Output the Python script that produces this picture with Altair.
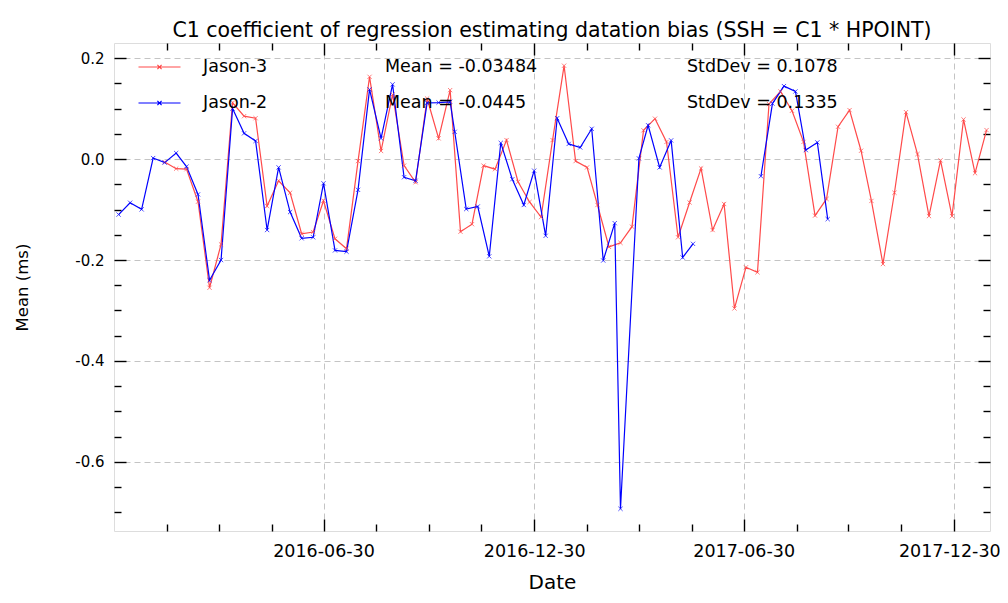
import altair as alt
import pandas as pd

# ---------------- data ----------------
chart_title = "C1 coefficient of regression estimating datation bias (SSH = C1 * HPOINT)"
series_names = ["Jason-3", "Jason-2"]
series_colors = ["#ff4a4a", "#0000ff"]
mean_labels = ["Mean = -0.03484", "Mean = -0.0445"]
std_labels = ["StdDev = 0.1078", "StdDev = 0.1335"]

j3_dates = [
    "2016-02-13", "2016-02-23", "2016-03-03", "2016-03-13", "2016-03-23", "2016-04-02",
    "2016-04-12", "2016-04-22", "2016-05-02", "2016-05-12", "2016-05-22", "2016-06-01",
    "2016-06-11", "2016-06-21", "2016-06-30", "2016-07-10", "2016-07-20", "2016-07-30",
    "2016-08-09", "2016-08-19", "2016-08-29", "2016-09-08", "2016-09-18", "2016-09-28",
    "2016-10-08", "2016-10-18", "2016-10-27", "2016-11-06", "2016-11-16", "2016-11-26",
    "2016-12-06", "2016-12-16", "2016-12-26", "2017-01-05", "2017-01-15", "2017-01-25",
    "2017-02-04", "2017-02-14", "2017-02-23", "2017-03-05", "2017-03-15", "2017-03-25",
    "2017-04-04", "2017-04-14", "2017-04-24", "2017-05-04", "2017-05-14", "2017-05-24",
    "2017-06-03", "2017-06-13", "2017-06-22", "2017-07-02", "2017-07-12", "2017-07-22",
    "2017-08-01", "2017-08-11", "2017-08-21", "2017-08-31", "2017-09-10", "2017-09-20",
    "2017-09-30", "2017-10-10", "2017-10-19", "2017-10-29", "2017-11-08", "2017-11-18",
    "2017-11-28", "2017-12-08", "2017-12-18", "2017-12-28", "2018-01-07", "2018-01-17",
    "2018-01-27",
]
j3_values = [
    -0.006, -0.019, -0.020, -0.0845, -0.255, -0.169,
    0.1115, 0.085, 0.081, -0.093, -0.043, -0.0667,
    -0.148, -0.1446, -0.0825, -0.158, -0.1776, -0.004,
    0.163, 0.016, 0.128, -0.013, -0.046, 0.120,
    0.041, 0.1366, -0.144, -0.129, -0.013, -0.020,
    0.0376, -0.045, -0.085, -0.115, 0.0376, 0.185,
    -0.004, -0.0165, -0.091, -0.174, -0.166, -0.134,
    0.057, 0.080, 0.034, -0.155, -0.086, -0.0185,
    -0.1406, -0.089, -0.296, -0.2145, -0.2244, 0.109,
    0.134, 0.0957, 0.034, -0.112, -0.079, 0.064,
    0.097, 0.0165, -0.083, -0.208, -0.0667, 0.093,
    0.0099, -0.113, -0.0026, -0.113, 0.0785, -0.028,
    0.0574,
]

# Jason-2: two separate (unconnected) runs
j2_dates_a = [
    "2016-01-04", "2016-01-14", "2016-01-24", "2016-02-03", "2016-02-13", "2016-02-23",
    "2016-03-03", "2016-03-13", "2016-03-23", "2016-04-02", "2016-04-12", "2016-04-22",
    "2016-05-02", "2016-05-12", "2016-05-22", "2016-06-01", "2016-06-11", "2016-06-21",
    "2016-06-30", "2016-07-10", "2016-07-20", "2016-07-30", "2016-08-09", "2016-08-19",
    "2016-08-29", "2016-09-08", "2016-09-18", "2016-09-28", "2016-10-08", "2016-10-18",
    "2016-10-22", "2016-11-01", "2016-11-11", "2016-11-21", "2016-12-01", "2016-12-11",
    "2016-12-21", "2016-12-30", "2017-01-09", "2017-01-19", "2017-01-29", "2017-02-08",
    "2017-02-18", "2017-02-28", "2017-03-10", "2017-03-15", "2017-03-31", "2017-04-08",
    "2017-04-18", "2017-04-28", "2017-05-08", "2017-05-17",
]
j2_values_a = [
    -0.110, -0.0865, -0.0997, 0.002, -0.007, 0.012,
    -0.015, -0.070, -0.240, -0.200, 0.100, 0.051,
    0.036, -0.1406, -0.0165, -0.105, -0.157, -0.155,
    -0.048, -0.181, -0.1835, -0.061, 0.138, 0.041,
    0.148, -0.036, -0.043, 0.1115, 0.112, 0.1135,
    0.054, -0.099, -0.094, -0.1927, 0.032, -0.040,
    -0.091, -0.023, -0.152, 0.081, 0.030, 0.023,
    0.060, -0.201, -0.127, -0.693, 0.0013, 0.067,
    -0.0165, 0.037, -0.195, -0.168,
]
j2_dates_b = [
    "2017-07-15", "2017-07-25", "2017-08-04", "2017-08-14", "2017-08-23", "2017-09-02",
    "2017-09-11",
]
j2_values_b = [-0.034, 0.110, 0.1446, 0.134, 0.0178, 0.033, -0.119]

x_domain = ["2015-12-31", "2018-01-30"]
x_major = ["2016-06-30", "2016-12-30", "2017-06-30", "2017-12-30"]
x_minor = [
    "2016-02-15", "2016-03-31", "2016-05-16",
    "2016-08-15", "2016-09-30", "2016-11-14",
    "2017-02-14", "2017-03-31", "2017-05-16",
    "2017-08-15", "2017-09-29", "2017-11-14",
]
y_domain = [-0.737, 0.23]
y_major = [-0.6, -0.4, -0.2, 0.0, 0.2]
y_minor = [-0.7, -0.65, -0.55, -0.5, -0.45, -0.35, -0.3, -0.25, -0.15, -0.1, -0.05,
           0.05, 0.1, 0.15]

# ---------------- table ----------------
frames = [
    pd.DataFrame({"date": pd.to_datetime(j3_dates), "value": j3_values,
                  "series": series_names[0], "run": "j3"}),
    pd.DataFrame({"date": pd.to_datetime(j2_dates_a), "value": j2_values_a,
                  "series": series_names[1], "run": "j2a"}),
    pd.DataFrame({"date": pd.to_datetime(j2_dates_b), "value": j2_values_b,
                  "series": series_names[1], "run": "j2b"}),
]
df = pd.concat(frames, ignore_index=True)


def dt(s):
    y, m, d = (int(p) for p in s.split("-"))
    return alt.DateTime(year=y, month=m, date=d)


FONT = "DejaVu Sans"
W, H = 876, 488
MAJOR, MINOR = 12, 7

x_scale = alt.Scale(domain=[dt(x_domain[0]), dt(x_domain[1])], nice=False)
y_scale = alt.Scale(domain=y_domain, nice=False, zero=False)
color_scale = alt.Scale(domain=series_names, range=series_colors)

legend = alt.Legend(
    title=None, orient="none", legendX=34, legendY=12.5,
    symbolType="M-2,0L2,0M-0.2,-0.2L0.2,0.2M-0.2,0.2L0.2,-0.2",
    symbolSize=441, symbolStrokeWidth=1.2,
    labelFont=FONT, labelFontSize=17.5, labelColor="black",
    labelOffset=32, rowPadding=16, padding=0,
)


def tick_axis(orient, values, size):
    return alt.Axis(orient=orient, values=values, labels=False, domain=False,
                    grid=False, ticks=True, tickSize=size, tickColor="black",
                    tickWidth=1.4, offset=-size, title=None)


x_major_dt = [dt(v) for v in x_major]
x_minor_dt = [dt(v) for v in x_minor]

x_main_axis = alt.Axis(
    orient="bottom", values=x_major_dt, format="%Y-%m-%d", labelFlush=False,
    labelOverlap=False, labelFont=FONT, labelFontSize=17.5, labelColor="black",
    labelPadding=11,
    labelOffset={"condition": {"test": "datum.value > 1509000000000", "value": -5},
                 "value": 0},
    tickSize=0, domain=False, grid=True, gridColor="#c4c4c4",
    gridDash=[6, 4], gridWidth=1, title="Date", titleFont=FONT, titleFontSize=20,
    titleFontWeight="normal", titleColor="black", titleY=51, titleBaseline="middle",
)
y_main_axis = alt.Axis(
    orient="left", values=y_major,
    labelExpr="datum.value < 0 ? '-' + format(-datum.value, '.1f') : format(datum.value, '.1f')",
    labelFont=FONT, labelFontSize=15, labelColor="black", labelPadding=10,
    tickSize=0, domain=False, grid=True, gridColor="#c4c4c4", gridDash=[6, 4],
    gridWidth=1, title="Mean (ms)", titleFont=FONT, titleFontSize=16.5,
    titleFontWeight="normal", titleColor="black", titleX=-92, titleY=H / 2,
    titleBaseline="middle", titleAlign="center",
)

base = alt.Chart(df)

lines = base.mark_line(strokeWidth=1.2).encode(
    x=alt.X("date:T", scale=x_scale, axis=x_main_axis),
    y=alt.Y("value:Q", scale=y_scale, axis=y_main_axis),
    color=alt.Color("series:N", scale=color_scale, legend=legend),
    detail="run:N",
    order="date:T",
)

points = base.mark_point(shape="M-1,-1L1,1M-1,1L1,-1", size=18, filled=False,
                         strokeWidth=1).encode(
    x=alt.X("date:T", scale=x_scale, axis=tick_axis("bottom", x_major_dt, MAJOR)),
    y=alt.Y("value:Q", scale=y_scale, axis=tick_axis("left", y_major, MAJOR)),
    color=alt.Color("series:N", scale=color_scale, legend=None),
)

ghost_specs = [
    ("bottom", x_minor_dt, MINOR, "left", y_minor, MINOR),
    ("top", x_major_dt, MAJOR, "right", y_major, MAJOR),
    ("top", x_minor_dt, MINOR, "right", y_minor, MINOR),
]
ghosts = [
    base.mark_point(opacity=0).encode(
        x=alt.X("date:T", scale=x_scale, axis=tick_axis(xo, xv, xs)),
        y=alt.Y("value:Q", scale=y_scale, axis=tick_axis(yo, yv, ys)),
    )
    for xo, xv, xs, yo, yv, ys in ghost_specs
]

text_layers = []
for i in range(2):
    for labels, xpix in ((mean_labels, 271), (std_labels, 573)):
        text_layers.append(
            alt.Chart(pd.DataFrame({"label": [labels[i]]})).mark_text(
                align="left", baseline="middle", font=FONT, fontSize=17.5, color="black"
            ).encode(x=alt.value(xpix), y=alt.value(24 + 36 * i), text="label:N")
        )

chart = alt.layer(lines, points, *ghosts, *text_layers).resolve_axis(
    x="independent", y="independent"
).properties(
    width=W, height=H,
    title=alt.Title(chart_title, font=FONT, fontSize=20.5, fontWeight="normal",
                    color="black", anchor="middle", offset=1),
    autosize=alt.AutoSizeParams(type="none"),
    padding={"left": 106, "top": 35, "right": 10, "bottom": 64},
).configure_view(stroke="black", strokeWidth=2).configure(background="white")

chart.save("out.html", embed_options={"renderer": "svg", "actions": False})
